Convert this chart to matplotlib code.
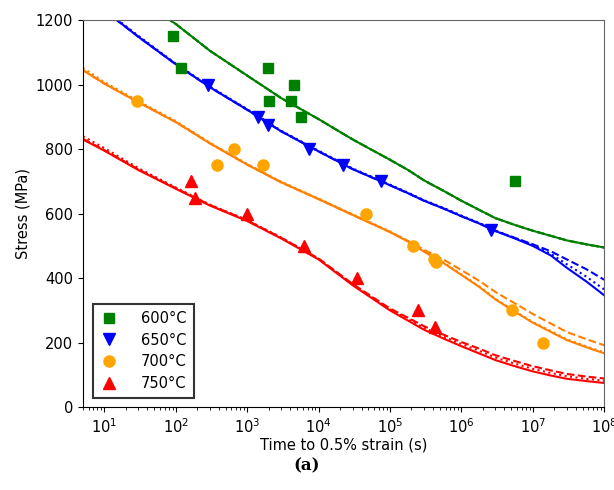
import matplotlib.pyplot as plt

# === measured points ===
t600 = [90, 120, 1950, 2000, 4100, 4500, 5600, 5.6e6]
s600 = [1150, 1050, 1050, 950, 950, 1000, 900, 700]

t650 = [280, 1400, 1950, 7400, 22000, 76000, 2.6e6]
s650 = [1000, 900, 875, 800, 750, 700, 550]

t700 = [29, 380, 650, 1650, 46000, 2.1e5, 4.2e5, 4.4e5, 5.1e6, 1.38e7]
s700 = [950, 750, 800, 750, 600, 500, 460, 450, 300, 200]

t750 = [165, 183, 980, 6300, 34000, 2.5e5, 4.3e5]
s750 = [700, 650, 600, 500, 400, 300, 250]

# === model curves ===
tc = [5, 10, 30, 100, 300, 1e3, 3e3, 1e4, 3e4, 1e5, 1.8e5, 3e5, 5.6e5,
      1e6, 1.8e6, 3e6, 5.6e6, 1e7, 1.8e7, 3e7, 5.6e7, 1e8]

g_solid = [1395, 1345, 1265, 1188, 1105, 1028, 958, 893, 830, 767, 735,
           703, 671, 640, 611, 586, 565, 547, 531, 517, 505, 495]
g_dash = g_solid
g_dot = g_solid

b_solid = [1280, 1230, 1148, 1063, 992, 922, 855, 793, 738, 688, 663,
           640, 616, 592, 569, 546, 523, 500, 470, 432, 390, 347]
b_dash = [1280, 1230, 1148, 1063, 992, 922, 855, 793, 738, 688, 663,
          640, 616, 592, 569, 546, 525, 505, 483, 458, 428, 395]
b_dot = [1283, 1233, 1151, 1065, 994, 924, 857, 795, 740, 690, 665,
         642, 618, 594, 571, 548, 525, 503, 475, 443, 405, 365]

o_solid = [1045, 1003, 945, 884, 818, 752, 697, 645, 596, 543, 513,
           482, 447, 410, 372, 334, 296, 262, 233, 208, 186, 167]
o_dash = [1045, 1003, 945, 884, 818, 752, 697, 645, 596, 543, 515,
          488, 458, 425, 391, 357, 322, 289, 259, 233, 211, 192]
o_dot = [1052, 1008, 949, 887, 820, 754, 699, 647, 598, 545, 515,
         484, 449, 412, 374, 336, 298, 264, 236, 211, 189, 170]

r_solid = [830, 795, 735, 677, 625, 577, 523, 458, 378, 300, 268,
           240, 213, 189, 166, 146, 127, 111, 98, 88, 81, 75]
r_dash = [832, 797, 737, 679, 627, 579, 525, 461, 382, 306, 277,
          251, 225, 202, 181, 161, 143, 127, 114, 103, 95, 89]
r_dot = [840, 803, 741, 681, 628, 580, 526, 460, 380, 303, 273,
         246, 219, 196, 174, 154, 135, 119, 106, 96, 88, 82]

labels = ["600°C", "650°C", "700°C", "750°C"]

fig = plt.figure(figsize=(6.14, 4.9), dpi=100)
ax = fig.add_axes([0.135, 0.169, 0.849, 0.790])

curves = [
    (g_solid, g_dash, g_dot, "green"),
    (b_solid, b_dash, b_dot, "blue"),
    (o_solid, o_dash, o_dot, "#ff8000"),
    (r_solid, r_dash, r_dot, "red"),
]
for solid, dash, dot, col in curves:
    ax.plot(tc, dot, ":", color=col, lw=1.5)
    ax.plot(tc, dash, "--", color=col, lw=1.5)
    ax.plot(tc, solid, "-", color=col, lw=1.5)

ax.plot(t600, s600, "s", color="green", ms=7.5, ls="none", label=labels[0])
ax.plot(t650, s650, "v", color="blue", ms=8.5, ls="none", label=labels[1])
ax.plot(t700, s700, "o", color="orange", ms=8, ls="none", label=labels[2])
ax.plot(t750, s750, "^", color="red", ms=8.5, ls="none", label=labels[3])

ax.set_xscale("log")
ax.set_xlim(5, 1e8)
ax.set_ylim(0, 1200)
ax.set_yticks([0, 200, 400, 600, 800, 1000, 1200])
ax.tick_params(labelsize=10.5)
ax.set_xlabel("Time to 0.5% strain (s)", fontsize=10.5, labelpad=1)
ax.set_ylabel("Stress (MPa)", fontsize=10.5)
for side in ["top", "right"]:
    ax.spines[side].set_color("#666666")

leg = ax.legend(loc="lower left", fontsize=10.5, fancybox=False, edgecolor="black",
                handlelength=1.2, handletextpad=1.6, borderpad=0.5, labelspacing=0.45,
                bbox_to_anchor=(0.005, 0.005))
leg.get_frame().set_linewidth(1.5)

fig.text(0.5, 0.05, "(a)", ha="center", va="center", fontsize=12,
         family="DejaVu Serif", fontweight="bold")

plt.savefig("out.png", dpi=100)
